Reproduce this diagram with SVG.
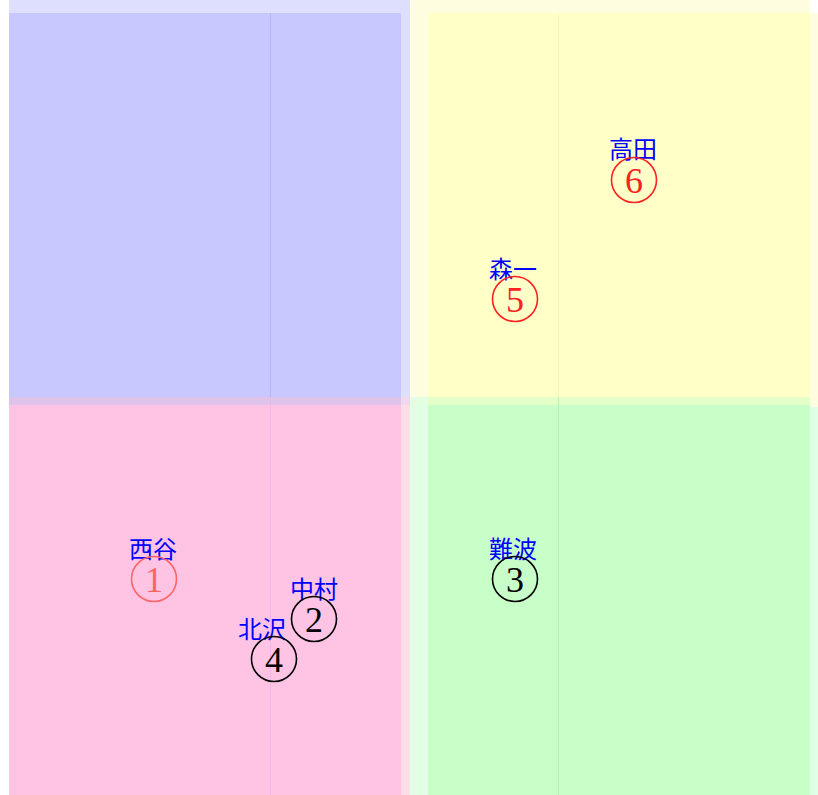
<svg xmlns="http://www.w3.org/2000/svg" width="818" height="795" viewBox="0 0 818 795">
<style>
.lbl{font-family:"Noto Sans CJK JP","Noto Sans CJK SC",sans-serif;font-size:24px;fill:#0000ff;text-anchor:middle;dominant-baseline:central}
.num{font-family:"Liberation Serif","DejaVu Serif",serif;font-size:36px;text-anchor:middle}
.ring{fill:none;stroke-width:1.6}
.blk .ring{stroke:#000}
.blk .num{fill:#000}
.red .ring{stroke:#ff2020}
.red .num{fill:#ff2020}
.pale .ring{stroke:#ff6464}
.pale .num{fill:#ff6464}
</style>
<rect width="818" height="795" fill="#ffffff"/>
<g id="regions">
<rect x="9" y="0" width="401" height="397" fill="#dedeff"/>
<rect x="410" y="0" width="400" height="397" fill="#fffde0"/>
<rect x="9" y="397" width="401" height="398" fill="#ffdde6"/>
<rect x="410" y="397" width="400" height="398" fill="#e0ffe4"/>
<rect x="9" y="13" width="392" height="384" fill="#c8c8ff"/>
<rect x="428" y="13" width="382" height="384" fill="#ffffc8"/>
<rect x="810" y="13" width="8" height="394" fill="#fffde0"/>
<rect x="9" y="405" width="392" height="390" fill="#ffc4e4"/>
<rect x="428" y="405" width="382" height="390" fill="#c8ffc8"/>
<rect x="810" y="407" width="8" height="388" fill="#e0ffe4"/>
<rect x="9" y="397" width="392" height="8" fill="#dec4ea"/>
<rect x="401" y="397" width="9" height="8" fill="#f0d8f0"/>
<rect x="410" y="397" width="18" height="8" fill="#e4ffe0"/>
<rect x="428" y="397" width="382" height="8" fill="#e4ffc8"/>
<line x1="270.5" y1="13" x2="270.5" y2="397" stroke="#b4b4ff" stroke-width="1"/>
<line x1="270.5" y1="397" x2="270.5" y2="795" stroke="#f4b4f0" stroke-width="1"/>
<line x1="558.5" y1="13" x2="558.5" y2="397" stroke="#f8f8b4" stroke-width="1"/>
<line x1="558.5" y1="397" x2="558.5" y2="795" stroke="#b4f4b4" stroke-width="1"/>
</g>
<g id="connectors"></g>
<g id="node1" class="pale">
<text class="lbl" x="153" y="547">西谷</text>
<circle class="ring" cx="154" cy="579" r="22.5"/>
<text class="num" x="154" y="591.5">1</text>
</g>
<g id="node2" class="blk">
<text class="lbl" x="314" y="587">中村</text>
<circle class="ring" cx="314" cy="619" r="22.5"/>
<text class="num" x="314" y="631.5">2</text>
</g>
<g id="node3" class="blk">
<text class="lbl" x="513" y="547">難波</text>
<circle class="ring" cx="515" cy="579" r="22.5"/>
<text class="num" x="515" y="591.5">3</text>
</g>
<g id="node4" class="blk">
<text class="lbl" x="262" y="627">北沢</text>
<circle class="ring" cx="274" cy="659" r="22.5"/>
<text class="num" x="274" y="671.5">4</text>
</g>
<g id="node5" class="red">
<text class="lbl" x="513" y="267">森一</text>
<circle class="ring" cx="515" cy="299" r="22.5"/>
<text class="num" x="515" y="311.5">5</text>
</g>
<g id="node6" class="red">
<text class="lbl" x="633" y="147">高田</text>
<circle class="ring" cx="634" cy="180" r="22.5"/>
<text class="num" x="634" y="192.5">6</text>
</g>
</svg>
